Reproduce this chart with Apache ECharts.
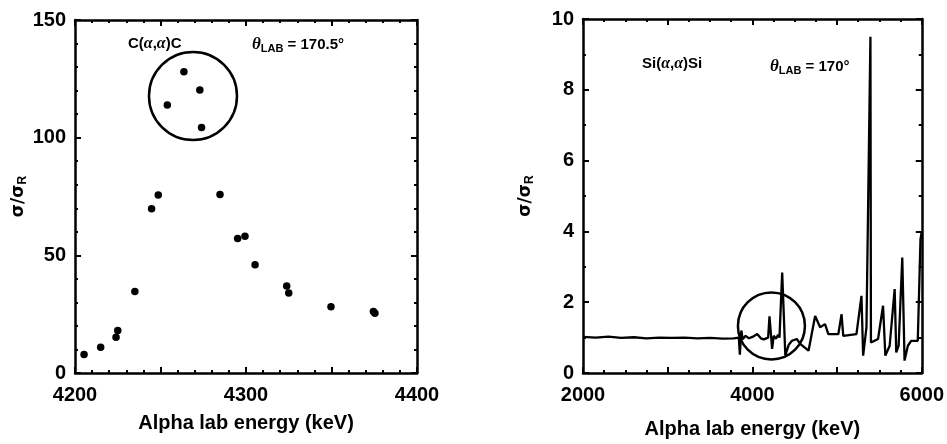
<!DOCTYPE html>
<html>
<head>
<meta charset="utf-8">
<script src="https://cdn.jsdelivr.net/npm/echarts@6/dist/echarts.min.js"></script>
<style>
html,body{margin:0;padding:0;background:#fff;}
#chart{width:947px;height:444px;}
</style>
</head>
<body>
<div id="chart"></div>
<script>
// ---- Left panel: C(alpha,alpha)C, theta = 170.5 deg ----
const cEnergy = [4205.3, 4215, 4224, 4225, 4235, 4244.8, 4248.7, 4254, 4263.7, 4273, 4274, 4284.8, 4295.1, 4299.4, 4305.3, 4323.8, 4325, 4349.7, 4374.5, 4375.4];
const cRatio  = [7.9, 10.9, 15.2, 18.1, 34.6, 69.8, 75.6, 113.9, 128, 120.3, 104.3, 75.8, 57.2, 58.1, 46, 37, 34, 28.2, 26.1, 25.4];
const cCircleCenter = [4269, 117.7];
const cXTicks = [4200, 4300, 4400];

// ---- Right panel: Si(alpha,alpha)Si, theta = 170 deg ----
const siEnergy = [2000, 2150, 2300, 2450, 2600, 2750, 2900, 3050, 3200, 3350, 3500, 3650,
  3780, 3840, 3852, 3870, 3885, 3920, 3960, 4000,
  4057, 4100, 4135, 4186, 4202, 4233, 4252, 4279, 4303, 4320,
  4340, 4352, 4389, 4430, 4467, 4525, 4565, 4663, 4741, 4800,
  4858, 4897, 5015, 5053, 5073, 5229, 5288, 5308, 5347, 5394,
  5400, 5484, 5543, 5570, 5621, 5680, 5699, 5727, 5770, 5797,
  5836, 5875, 5953, 5985, 6000];
const siRatio = [1.02, 1.0, 1.03, 0.99, 1.01, 0.98, 1.0, 0.99, 1.0, 0.98, 0.99, 0.97,
  0.98, 1.0, 0.52, 1.2, 0.95, 1.05, 0.98, 1.02,
  1.1, 0.98, 0.95, 1.0, 1.6, 0.68, 1.05, 0.97, 1.08, 1.0,
  1.02, 2.84, 0.5, 0.8, 0.91, 0.96, 0.82, 0.63, 1.61, 1.29,
  1.38, 1.1, 1.1, 1.66, 1.05, 1.1, 2.18, 0.49, 1.29, 9.5,
  0.86, 0.96, 1.9, 0.49, 0.77, 2.37, 0.58, 0.77, 3.26, 0.35,
  0.77, 0.91, 0.91, 3.77, 4.0];
const siCircleCenter = [4225, 1.33];
const siXTicks = [2000, 4000, 6000];

const FONT = 'Liberation Sans';
const black = '#000';

function mainX(grid, min, max, interval, minorSplit, shown, gap) {
  return {
    gridIndex: grid, type: 'value', min: min, max: max, interval: interval, position: 'bottom',
    axisLine: {show: true, onZero: false, lineStyle: {color: black, width: 2.5}},
    axisTick: {show: true, inside: true, length: 6, lineStyle: {color: black, width: 2}},
    minorTick: {show: true, splitNumber: minorSplit, length: 3, lineStyle: {color: black, width: 2}},
    splitLine: {show: false},
    axisLabel: {show: true, margin: 12, fontSize: 20, fontWeight: 'bold', fontFamily: FONT, color: black,
      formatter: function (v) { return shown.indexOf(v) >= 0 ? String(v) : ''; }},
    name: 'Alpha lab energy (keV)', nameLocation: 'middle', nameGap: gap,
    nameTextStyle: {fontSize: 20, fontWeight: 'bold', fontFamily: FONT, color: black}
  };
}
function mirrorX(grid, min, max, interval, minorSplit) {
  return {
    gridIndex: grid, type: 'value', min: min, max: max, interval: interval, position: 'top',
    axisLine: {show: true, onZero: false, lineStyle: {color: black, width: 2.5}},
    axisTick: {show: true, inside: true, length: 6, lineStyle: {color: black, width: 2}},
    minorTick: {show: true, splitNumber: minorSplit, length: 3, lineStyle: {color: black, width: 2}},
    splitLine: {show: false}, axisLabel: {show: false}
  };
}
function mainY(grid, min, max, interval, minorSplit, gap) {
  return {
    gridIndex: grid, type: 'value', min: min, max: max, interval: interval, position: 'left',
    axisLine: {show: true, onZero: false, lineStyle: {color: black, width: 2.5}},
    axisTick: {show: true, inside: true, length: 6, lineStyle: {color: black, width: 2}},
    minorTick: {show: true, splitNumber: minorSplit, length: 3, lineStyle: {color: black, width: 2}},
    splitLine: {show: false},
    axisLabel: {show: true, margin: 9, fontSize: 20, fontWeight: 'bold', fontFamily: FONT, color: black},
    name: '{s|σ/σ}{r|R}', nameLocation: 'middle', nameGap: gap, nameRotate: 90,
    nameTextStyle: {
      rich: {
        s: {fontSize: 17, fontWeight: 'bold', fontFamily: 'DejaVu Sans', color: black},
        r: {fontSize: 12, fontWeight: 'bold', fontFamily: FONT, color: black, padding: [8, 0, 0, 0]}
      }
    }
  };
}
function mirrorY(grid, min, max, interval, minorSplit) {
  return {
    gridIndex: grid, type: 'value', min: min, max: max, interval: interval, position: 'right',
    axisLine: {show: true, onZero: false, lineStyle: {color: black, width: 2.5}},
    axisTick: {show: true, inside: true, length: 6, lineStyle: {color: black, width: 2}},
    minorTick: {show: true, splitNumber: minorSplit, length: 3, lineStyle: {color: black, width: 2}},
    splitLine: {show: false}, axisLabel: {show: false}
  };
}

const richAnn = {
  n: {fontSize: 15, fontWeight: 'bold', fontFamily: FONT, color: black},
  a: {fontSize: 16, fontStyle: 'italic', fontFamily: 'Liberation Serif', color: black},
  t: {fontSize: 17, fontStyle: 'italic', fontWeight: 'bold', fontFamily: 'Liberation Serif', color: black},
  sub: {fontSize: 11, fontWeight: 'bold', fontFamily: FONT, color: black, padding: [8, 0, 0, 0]}
};
function ann(text, left, top) {
  return {text: text, left: left, top: top, padding: 0, textStyle: {rich: richAnn}};
}

const option = {
  animation: false,
  backgroundColor: '#fff',
  textStyle: {fontFamily: FONT},
  title: [
    ann('{n|C(}{a|α}{n|,}{a|α}{n|)C}', 128, 36),
    ann('{t|θ}{sub|LAB}{n| = 170.5°}', 252, 35),
    ann('{n|Si(}{a|α}{n|,}{a|α}{n|)Si}', 642, 56),
    ann('{t|θ}{sub|LAB}{n| = 170°}', 770, 57)
  ],
  grid: [
    {left: 75, top: 20, width: 342, height: 353},
    {left: 583, top: 19, width: 342, height: 355}
  ],
  xAxis: [
    mainX(0, 4200, 4400, 50, 5, cXTicks, 40),
    mirrorX(0, 4200, 4400, 50, 5),
    mainX(1, 2000, 6000, 1000, 4, siXTicks, 46),
    mirrorX(1, 2000, 6000, 1000, 4)
  ],
  yAxis: [
    mainY(0, 0, 150, 50, 5, 42),
    mirrorY(0, 0, 150, 50, 5),
    mainY(1, 0, 10, 2, 2, 47),
    mirrorY(1, 0, 10, 2, 2)
  ],
  series: [
    {
      type: 'scatter', xAxisIndex: 0, yAxisIndex: 0,
      data: cEnergy.map((e, i) => [e, cRatio[i]]),
      symbol: 'circle', symbolSize: 7.5, itemStyle: {color: black, opacity: 1}
    },
    {
      type: 'scatter', xAxisIndex: 0, yAxisIndex: 0,
      data: [cCircleCenter],
      symbol: 'circle', symbolSize: 88,
      itemStyle: {color: 'rgba(0,0,0,0)', borderColor: black, borderWidth: 2.5, opacity: 1}
    },
    {
      type: 'line', xAxisIndex: 2, yAxisIndex: 2,
      data: siEnergy.map((e, i) => [e, siRatio[i]]),
      showSymbol: false, symbol: 'none',
      lineStyle: {color: black, width: 2.3}
    },
    {
      type: 'scatter', xAxisIndex: 2, yAxisIndex: 2,
      data: [siCircleCenter],
      symbol: 'circle', symbolSize: 67,
      itemStyle: {color: 'rgba(0,0,0,0)', borderColor: black, borderWidth: 2.5, opacity: 1}
    }
  ]
};

const chart = echarts.init(document.getElementById('chart'), null, {renderer: 'canvas'});
chart.setOption(option);
</script>
</body>
</html>
